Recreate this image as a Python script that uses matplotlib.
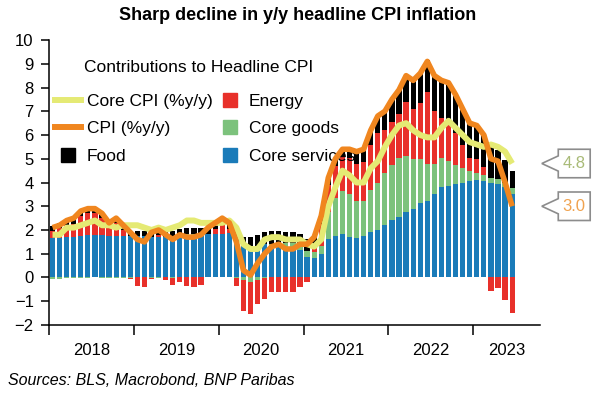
# stacked contributions to US headline CPI with headline and core lines

import matplotlib
matplotlib.use('Agg')
import matplotlib.pyplot as plt
import matplotlib.transforms as mtransforms
from matplotlib.lines import Line2D
from matplotlib.patches import Polygon
import numpy as np

plt.rcParams['font.family'] = ['Liberation Sans', 'DejaVu Sans']

# monthly data, Jan 2018 - Jun 2023 (% y/y and percentage-point contributions)
years = ['2018', '2019', '2020', '2021', '2022', '2023']

headline = [2.1, 2.2, 2.4, 2.5, 2.8, 2.9, 2.9, 2.7, 2.3, 2.5, 2.2, 1.9,
            1.6, 1.5, 1.9, 2.0, 1.8, 1.6, 1.8, 1.7, 1.7, 1.8, 2.1, 2.3,
            2.5, 2.3, 1.5, 0.3, 0.1, 0.6, 1.0, 1.3, 1.4, 1.2, 1.2, 1.4,
            1.4, 1.7, 2.6, 4.2, 5.0, 5.4, 5.4, 5.3, 5.4, 6.2, 6.8, 7.0,
            7.5, 7.9, 8.5, 8.3, 8.6, 9.1, 8.5, 8.3, 8.2, 7.7, 7.1, 6.5,
            6.4, 6.0, 5.0, 4.9, 4.0, 3.0]

core = [1.8, 1.8, 2.1, 2.1, 2.2, 2.3, 2.4, 2.2, 2.2, 2.1, 2.2, 2.2,
        2.2, 2.1, 2.0, 2.1, 2.0, 2.1, 2.2, 2.4, 2.4, 2.3, 2.3, 2.3,
        2.3, 2.4, 2.1, 1.4, 1.2, 1.2, 1.6, 1.7, 1.7, 1.6, 1.6, 1.6,
        1.4, 1.3, 1.6, 3.0, 3.8, 4.5, 4.3, 4.0, 4.0, 4.6, 4.9, 5.5,
        6.0, 6.4, 6.5, 6.2, 6.0, 5.9, 5.9, 6.3, 6.6, 6.3, 6.0, 5.7,
        5.6, 5.5, 5.6, 5.5, 5.3, 4.8]

core_services = [1.65, 1.65, 1.7, 1.72, 1.75, 1.8, 1.8, 1.8, 1.75, 1.75, 1.75, 1.75,
                 1.75, 1.75, 1.72, 1.72, 1.72, 1.72, 1.75, 1.78, 1.8, 1.8, 1.82, 1.85,
                 1.85, 1.88, 1.75, 1.4, 1.3, 1.3, 1.4, 1.3, 1.3, 1.25, 1.2, 1.15,
                 0.85, 0.82, 0.99, 1.6, 1.75, 1.83, 1.72, 1.65, 1.75, 1.93, 2.0, 2.2,
                 2.4, 2.55, 2.75, 2.9, 3.13, 3.24, 3.5, 3.8, 3.87, 3.95, 4.0, 4.05,
                 4.1, 4.05, 4.0, 3.95, 3.8, 3.5]

core_goods = [-0.05, -0.05, -0.03, -0.02, -0.03, -0.02, 0.0, -0.03, -0.04, -0.04, -0.03, -0.02,
              0.0, 0.0, -0.02, -0.03, 0.0, -0.02, 0.03, 0.05, 0.05, 0.03, 0.02, 0.0,
              0.0, 0.0, -0.03, -0.12, -0.18, -0.12, -0.03, 0.1, 0.15, 0.2, 0.25, 0.25,
              0.25, 0.25, 0.35, 1.15, 1.6, 1.8, 1.8, 1.55, 1.45, 1.75, 2.0, 2.2,
              2.35, 2.5, 2.35, 2.1, 1.85, 1.55, 1.3, 1.25, 1.05, 0.8, 0.6, 0.45,
              0.3, 0.25, 0.2, 0.2, 0.2, 0.25]

energy = [0.3, 0.45, 0.5, 0.55, 0.85, 0.9, 0.9, 0.7, 0.35, 0.55, 0.25, -0.05,
          -0.35, -0.4, -0.05, 0.08, -0.1, -0.3, -0.2, -0.35, -0.38, -0.3, 0.0, 0.2,
          0.35, 0.15, -0.33, -1.28, -1.36, -0.98, -0.87, -0.63, -0.63, -0.63, -0.63, -0.42,
          -0.21, 0.2, 0.9, 1.15, 1.35, 1.45, 1.5, 1.6, 1.65, 1.9, 2.1, 1.8,
          1.8, 1.85, 2.3, 2.1, 2.35, 3.0, 2.2, 1.65, 1.6, 1.35, 1.0, 0.55,
          0.6, 0.35, -0.55, -0.45, -0.95, -1.5]

food = [0.2, 0.2, 0.2, 0.2, 0.2, 0.2, 0.2, 0.2, 0.2, 0.2, 0.2, 0.2,
        0.22, 0.22, 0.25, 0.25, 0.25, 0.25, 0.25, 0.25, 0.25, 0.27, 0.27, 0.27,
        0.25, 0.27, 0.22, 0.32, 0.4, 0.48, 0.52, 0.55, 0.5, 0.45, 0.45, 0.45,
        0.5, 0.45, 0.4, 0.3, 0.3, 0.32, 0.38, 0.5, 0.55, 0.62, 0.7, 0.8,
        0.95, 1.0, 1.1, 1.2, 1.27, 1.35, 1.5, 1.6, 1.6, 1.55, 1.5, 1.45,
        1.4, 1.35, 1.3, 1.2, 0.95, 0.75]

# colours
cBlue = '#1a7bb9'
cGreen = '#7cc27c'
cRed = '#e8302a'
cBlack = '#000000'
cOrange = '#f0861f'
cYellow = '#e5ea74'

x = np.arange(len(headline))

# create figure
fig = plt.figure(figsize=(5.96, 3.97), dpi=100)
ax = fig.add_axes([0.0822, 0.1814, 0.824, 0.7178])

# stack positive parts upward and negative parts downward
posBottom = np.zeros(len(x))
negBottom = np.zeros(len(x))
for vals, col in [(core_services, cBlue), (core_goods, cGreen),
                  (energy, cRed), (food, cBlack)]:
    vals = np.array(vals)
    pos = np.where(vals > 0, vals, 0)
    neg = np.where(vals < 0, vals, 0)
    ax.bar(x, pos, bottom=posBottom, width=0.74, color=col, linewidth=0)
    ax.bar(x, neg, bottom=negBottom, width=0.74, color=col, linewidth=0)
    posBottom += pos
    negBottom += neg

# lines
ax.plot(x, core, color=cYellow, linewidth=4.3, solid_joinstyle='round',
        solid_capstyle='butt', zorder=3)
ax.plot(x, headline, color=cOrange, linewidth=4.0, solid_joinstyle='round',
        solid_capstyle='butt', zorder=4)

# axes
xmax = 68.95
ax.set_xlim(-0.5, xmax)
ax.set_ylim(-2, 10)
ax.set_yticks(np.arange(-2, 11, 1))
ax.set_xticks(np.arange(-0.5, 60, 12))
ax.set_xticklabels([])
yearCentres = list(np.arange(5.5, 59, 12)) + [(59.5 + xmax) / 2]
ax.set_xticks(yearCentres, minor=True)
ax.set_xticklabels(years, minor=True)
ax.tick_params(axis='x', which='major', direction='out', length=7.5, width=1.1)
ax.tick_params(axis='x', which='minor', length=0, pad=13, labelsize=12)
ax.tick_params(axis='y', direction='out', length=6, width=1.1, pad=5, labelsize=12)
for side in ['top', 'right']:
    ax.spines[side].set_visible(False)
for side in ['left', 'bottom']:
    ax.spines[side].set_linewidth(1.1)

# legend (sits under the lines, as in the source chart)
ax.text(0.072, 0.905, 'Contributions to Headline CPI', transform=ax.transAxes,
        fontsize=12.5, va='center', ha='left', zorder=2)
handles = [Line2D([], [], color=cYellow, linewidth=4.3),
           Line2D([], [], color=cOrange, linewidth=4.3),
           Line2D([], [], color=cBlack, marker='s', linestyle='None', markersize=9.5),
           Line2D([], [], color=cRed, marker='s', linestyle='None', markersize=10.5),
           Line2D([], [], color=cGreen, marker='s', linestyle='None', markersize=10.5),
           Line2D([], [], color=cBlue, marker='s', linestyle='None', markersize=10.5)]
labels = ['Core CPI (%y/y)', 'CPI (%y/y)', 'Food',
          'Energy', 'Core goods', 'Core services']
leg = ax.legend(handles, labels, ncol=2, loc='upper left', bbox_to_anchor=(0.013, 0.812),
                frameon=False, fontsize=12.5, borderpad=0, borderaxespad=0,
                handlelength=1.47, handletextpad=0.35, columnspacing=0.25,
                labelspacing=0.72)
leg.set_zorder(2)

# value callouts to the right of the axes
trans = mtransforms.blended_transform_factory(ax.transAxes, ax.transData)
for val, col in [(core[-1], '#a9bb78'), (headline[-1], '#f0a24e')]:
    pts = [(1.0035, val), (1.037, val + 0.32), (1.037, val + 0.6),
           (1.102, val + 0.6), (1.102, val - 0.6), (1.037, val - 0.6),
           (1.037, val - 0.32)]
    ax.add_patch(Polygon(pts, closed=True, facecolor='white', edgecolor='#8c8c8c',
                         linewidth=1.2, transform=trans, clip_on=False))
    ax.text(1.0695, val, '%.1f' % val, transform=trans, color=col, fontsize=12,
            ha='center', va='center', clip_on=False)

# titles
fig.text(0.5, 0.962, 'Sharp decline in y/y headline CPI inflation', ha='center',
         va='center', fontsize=13, fontweight='bold')
fig.text(0.013, 0.042, 'Sources: BLS, Macrobond, BNP Paribas', ha='left',
         va='center', fontsize=11.5, style='italic')

fig.savefig('out.png', dpi=100)
